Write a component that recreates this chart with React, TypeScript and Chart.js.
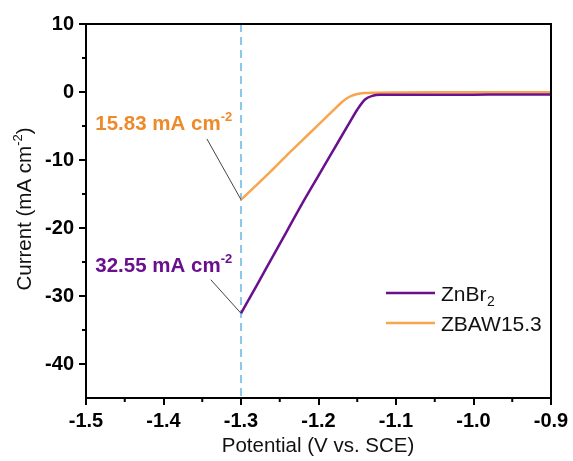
import React, { useEffect, useRef } from "react";
import { Chart, registerables } from "chart.js";

Chart.register(...registerables);

const xZnBr2 = [-1.3, -1.28, -1.26, -1.24, -1.22, -1.2, -1.18, -1.16, -1.15, -1.14, -1.13, -1.12, -1.1, -1.05, -1.0, -0.95, -0.9];
const yZnBr2 = [-32.55, -28.5, -24.4, -20.3, -16.2, -12.3, -8.4, -4.5, -2.6, -1.1, -0.55, -0.42, -0.4, -0.4, -0.39, -0.38, -0.38];

const xZBAW = [-1.3, -1.28, -1.26, -1.24, -1.22, -1.2, -1.18, -1.17, -1.16, -1.15, -1.14, -1.13, -1.1, -1.05, -1.0, -0.95, -0.9];
const yZBAW = [-15.83, -13.7, -11.5, -9.2, -7.0, -4.8, -2.6, -1.5, -0.7, -0.3, -0.15, -0.1, -0.06, -0.05, -0.05, -0.05, -0.05];

const seriesNames = ["ZnBr", "ZBAW15.3"];
const xTickStep = 0.1;
const yTickStep = 10;
const markerX = -1.3;
const labelTexts = ["15.83 mA cm", "32.55 mA cm"];

const PURPLE = "#6a0f8e";
const ORANGE = "#f9a54e";
const ORANGE_TXT = "#ef8a2a";
const FONT = "'Liberation Sans', Arial, sans-serif";

function textWithSup(ctx: CanvasRenderingContext2D, x: number, y: number, main: string, sup: string, tail: string, size: number, weight: string, align: "left" | "center") {
  const mainFont = `${weight} ${size}px ${FONT}`;
  const supFont = `${weight} ${Math.round(size * 0.62)}px ${FONT}`;
  ctx.font = mainFont;
  const w1 = ctx.measureText(main).width;
  const w3 = ctx.measureText(tail).width;
  ctx.font = supFont;
  const w2 = ctx.measureText(sup).width;
  const total = w1 + w2 + w3;
  let sx = align === "center" ? x - total / 2 : x;
  ctx.textAlign = "left";
  ctx.textBaseline = "alphabetic";
  ctx.font = mainFont;
  ctx.fillText(main, sx, y);
  ctx.font = supFont;
  ctx.fillText(sup, sx + w1, y - size * 0.42);
  ctx.font = mainFont;
  ctx.fillText(tail, sx + w1 + w2, y);
}

const decorPlugin = {
  id: "decor",
  beforeDatasetsDraw(chart: any) {
    const { ctx, chartArea, scales } = chart;
    const px = scales.x.getPixelForValue(markerX);
    ctx.save();
    ctx.strokeStyle = "#6fbbe8";
    ctx.lineWidth = 1.6;
    ctx.setLineDash([8, 5]);
    ctx.beginPath();
    ctx.moveTo(px, chartArea.top);
    ctx.lineTo(px, chartArea.bottom);
    ctx.stroke();
    ctx.restore();
  },
  afterDraw(chart: any) {
    const { ctx, chartArea, scales } = chart;
    const { left, right, top, bottom } = chartArea;
    const xs = scales.x;
    const ys = scales.y;
    ctx.save();
    ctx.strokeStyle = "#000";
    ctx.lineWidth = 2;
    ctx.beginPath();
    ctx.moveTo(left - 1, top);
    ctx.lineTo(right, top);
    ctx.lineTo(right, bottom + 1);
    ctx.stroke();
    for (let v = -1.45; v < -0.9; v += xTickStep) {
      const p = xs.getPixelForValue(v);
      ctx.beginPath();
      ctx.moveTo(p, bottom);
      ctx.lineTo(p, bottom + 4);
      ctx.stroke();
    }
    for (let v = 5; v > -45; v -= yTickStep) {
      const p = ys.getPixelForValue(v);
      ctx.beginPath();
      ctx.moveTo(left, p);
      ctx.lineTo(left - 4, p);
      ctx.stroke();
    }
    ctx.strokeStyle = "#444";
    ctx.lineWidth = 1;
    ctx.beginPath();
    ctx.moveTo(xs.getPixelForValue(-1.344), ys.getPixelForValue(-6.9));
    ctx.lineTo(xs.getPixelForValue(markerX), ys.getPixelForValue(yZBAW[0]));
    ctx.moveTo(xs.getPixelForValue(-1.339), ys.getPixelForValue(-27.6));
    ctx.lineTo(xs.getPixelForValue(markerX), ys.getPixelForValue(yZnBr2[0]));
    ctx.stroke();
    ctx.fillStyle = ORANGE_TXT;
    textWithSup(ctx, xs.getPixelForValue(-1.488), ys.getPixelForValue(-5.6), labelTexts[0], "-2", "", 20.5, "bold", "left");
    ctx.fillStyle = PURPLE;
    textWithSup(ctx, xs.getPixelForValue(-1.488), ys.getPixelForValue(-26.4), labelTexts[1], "-2", "", 20.5, "bold", "left");
    const lx0 = 386, lx1 = 435, tx = 441;
    const rows = [
      { y: 293, color: PURPLE },
      { y: 323, color: ORANGE },
    ];
    rows.forEach((r) => {
      ctx.strokeStyle = r.color;
      ctx.lineWidth = 2.5;
      ctx.beginPath();
      ctx.moveTo(lx0, r.y);
      ctx.lineTo(lx1, r.y);
      ctx.stroke();
    });
    ctx.fillStyle = "#111";
    ctx.textAlign = "left";
    ctx.textBaseline = "alphabetic";
    ctx.font = `21px ${FONT}`;
    ctx.fillText(seriesNames[0], tx, 301);
    const w = ctx.measureText(seriesNames[0]).width;
    ctx.font = `14px ${FONT}`;
    ctx.fillText("2", tx + w + 0.5, 306);
    ctx.font = `21px ${FONT}`;
    ctx.fillText(seriesNames[1], tx, 331);
    ctx.fillStyle = "#111";
    ctx.font = `20.5px ${FONT}`;
    ctx.textAlign = "center";
    ctx.fillText("Potential (V vs. SCE)", 318, 452);
    ctx.save();
    ctx.translate(31, (top + bottom) / 2 - 2);
    ctx.rotate(-Math.PI / 2);
    textWithSup(ctx, 0, 0, "Current (mA cm", "-2", ")", 20.5, "normal", "center");
    ctx.restore();
    ctx.restore();
  },
};

export default function App() {
  const ref = useRef<HTMLCanvasElement>(null);
  useEffect(() => {
    if (!ref.current) return;
    const chart = new Chart(ref.current, {
      type: "line",
      data: {
        datasets: [
          {
            label: "ZnBr2",
            data: xZnBr2.map((x, i) => ({ x, y: yZnBr2[i] })),
            borderColor: PURPLE,
            borderWidth: 2.5,
            pointRadius: 0,
            cubicInterpolationMode: "monotone",
            fill: false,
          },
          {
            label: "ZBAW15.3",
            data: xZBAW.map((x, i) => ({ x, y: yZBAW[i] })),
            borderColor: ORANGE,
            borderWidth: 2.5,
            pointRadius: 0,
            cubicInterpolationMode: "monotone",
            fill: false,
          },
        ],
      },
      options: {
        responsive: false,
        animation: false,
        layout: { padding: { top: 24, right: 22, left: 0, bottom: 0 } },
        plugins: { legend: { display: false }, tooltip: { enabled: false } },
        scales: {
          x: {
            type: "linear",
            min: -1.5,
            max: -0.9,
            afterFit: (s: any) => { s.height = 63; },
            ticks: {
              stepSize: xTickStep,
              includeBounds: false,
              color: "#000",
              padding: 4,
              font: { family: FONT, size: 20, weight: "bold" },
              callback: (v: any) => Number(v).toFixed(1),
            },
            grid: { drawOnChartArea: false, drawTicks: true, tickLength: 7, color: "#000", lineWidth: 2 },
            border: { display: true, color: "#000", width: 2 },
          },
          y: {
            type: "linear",
            min: -45,
            max: 10,
            afterFit: (s: any) => { s.width = 86; },
            ticks: {
              stepSize: yTickStep,
              includeBounds: false,
              color: "#000",
              padding: 5,
              font: { family: FONT, size: 20, weight: "bold" },
              callback: (v: any) => String(Math.round(Number(v))),
            },
            grid: { drawOnChartArea: false, drawTicks: true, tickLength: 7, color: "#000", lineWidth: 2 },
            border: { display: true, color: "#000", width: 2 },
          },
        },
      },
      plugins: [decorPlugin],
    } as any);
    return () => chart.destroy();
  }, []);
  return (
    <div style={{ position: "absolute", left: 0, top: 0, width: 573, height: 461, background: "#fff" }}>
      <canvas ref={ref} width={573} height={461} style={{ display: "block" }} />
    </div>
  );
}
